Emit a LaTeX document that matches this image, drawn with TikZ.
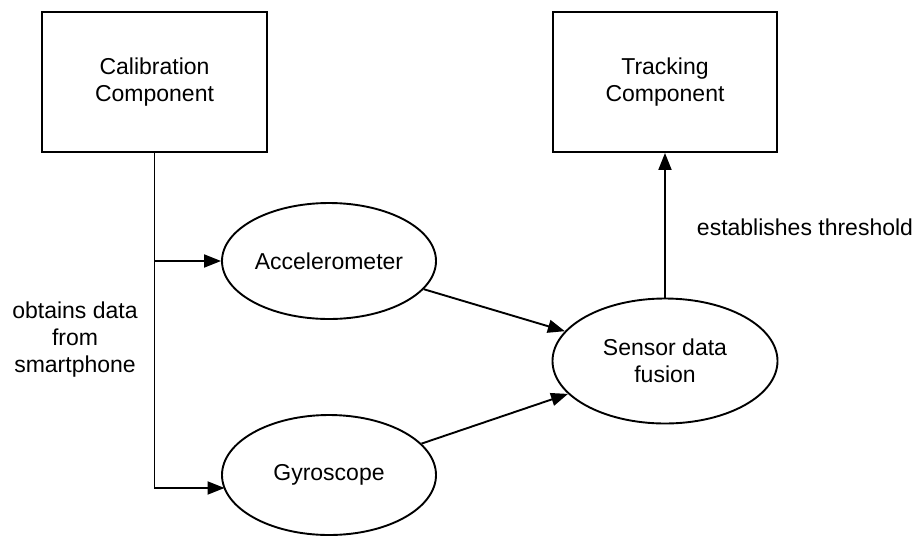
\documentclass[tikz,border=0pt]{standalone}
\usepackage{fontspec}
\setmainfont{Liberation Sans}
\usetikzlibrary{arrows.meta,shapes.geometric,calc}
\begin{document}
\begin{tikzpicture}[x=1pt,y=-1pt,
  every node/.style={font=\fontsize{23}{27}\selectfont, align=center, inner sep=0pt},
  compbox/.style={draw, line width=1.9pt, minimum width=225pt, minimum height=140pt},
  sensor/.style={draw, ellipse, line width=1.9pt, minimum width=214pt, minimum height=116pt},
  arr/.style={line width=1.9pt, -{Triangle[length=17pt,width=13pt]}},
  plain/.style={line width=1.9pt}]
  \useasboundingbox (0,0) rectangle (917,536);

  % components
  \node[compbox] (cal) at (154.5,82) {Calibration\\Component};
  \node[compbox, minimum width=224pt] (trk) at (665,82) {Tracking\\Component};

  % sensors and fusion
  \node[sensor] (acc) at (329,261) {Accelerometer};
  \node[sensor, minimum height=120pt] (gyr) at (329,475) {Gyroscope};
  \node[sensor, minimum width=225pt, minimum height=125pt] (fus) at (665,361) {Sensor data\\fusion};

  % calibration feeds both sensors
  \coordinate (split) at (cal.south |- acc.west);
  \path (gyr.center) ++(-104.5,13) coordinate (gyrin);
  \draw[plain] (cal.south) -- (split);
  \draw[arr] (split) -- (acc.west);
  \draw[arr] (cal.south) |- (gyrin);

  % sensors into fusion, fusion into tracking
  \draw[arr] (acc) -- (fus);
  \draw[arr] (gyr) -- (fus);
  \draw[arr] (fus.north) -- (trk.south);

  % labels
  \node (lblobt) at (75,340) {obtains data\\from\\smartphone};
  \node (lblest) at (805,227) {establishes threshold};
\end{tikzpicture}
\end{document}
